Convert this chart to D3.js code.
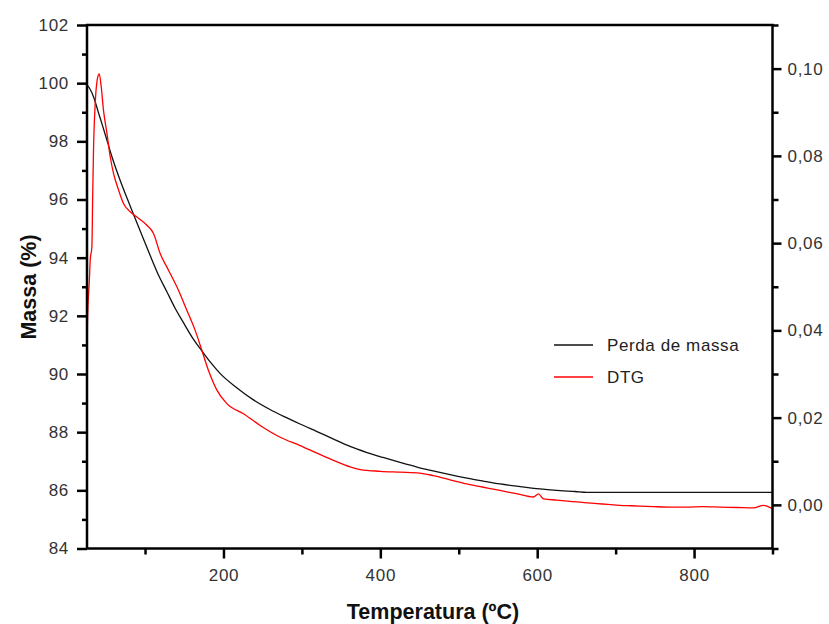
<!DOCTYPE html>
<html>
<head>
<meta charset="utf-8">
<script src="https://cdn.jsdelivr.net/npm/d3@7"></script>
<style>
  html, body { margin: 0; padding: 0; background: #fff; }
  svg { display: block; }
  text { font-family: "Liberation Sans", Arial, sans-serif; }
</style>
</head>
<body>
<svg id="chart" width="829" height="624"></svg>
<script>
// ---- Data ----
const massTemp = [26, 29.8, 34.9, 40.0, 45.1, 50.2, 57.9, 68.1, 77.0, 84.6, 94.9, 106.3, 116.5, 128.0, 138.2, 148.4, 159.9, 172.6, 184.1, 195.6, 217.3, 237.7, 259.3, 281.0, 297.6, 319.3, 339.7, 361.3, 383.0, 403.4, 425.1, 446.8, 467.2, 488.8, 510.5, 530.9, 552.6, 578.1, 603.6, 629.1, 648.2, 663.5, 700, 800, 900];
const massValues = [99.94, 99.80, 99.49, 99.04, 98.60, 98.15, 97.46, 96.67, 96.05, 95.54, 94.85, 94.09, 93.44, 92.82, 92.27, 91.79, 91.27, 90.79, 90.38, 90.02, 89.52, 89.12, 88.78, 88.49, 88.28, 88.02, 87.77, 87.51, 87.30, 87.13, 86.96, 86.80, 86.67, 86.54, 86.42, 86.32, 86.22, 86.13, 86.05, 85.99, 85.96, 85.93, 85.93, 85.93, 85.93];

const dtgTemp = [26.0, 26.6, 29.2, 30.1, 32.2, 33.3, 34.3, 36.5, 39.4, 41.6, 44.1, 47.0, 51.4, 55.6, 59.8, 66.2, 72.5, 81.1, 91.6, 102.4, 110.8, 119.3, 129.9, 142.6, 153.3, 163.9, 172.5, 180.9, 191.6, 204.3, 225.5, 246.8, 272.3, 297.8, 320, 340.2, 361.5, 374.3, 400, 425.2, 450, 467.7, 490, 510.3, 530, 552.7, 575, 595.2, 601.5, 607.9, 625, 642, 660, 676, 690, 705.7, 720, 748.1, 770, 790.7, 810, 833.1, 855, 875.6, 888.4, 899.1];
const dtgValues = [0.0316, 0.0416, 0.0523, 0.0561, 0.0591, 0.0714, 0.0813, 0.0921, 0.0978, 0.0988, 0.0959, 0.0905, 0.0852, 0.0798, 0.0760, 0.0722, 0.0691, 0.0672, 0.0657, 0.0641, 0.0622, 0.0576, 0.0538, 0.0492, 0.0446, 0.0400, 0.0354, 0.0308, 0.0263, 0.0232, 0.0209, 0.0182, 0.0155, 0.0136, 0.0118, 0.0102, 0.0087, 0.0081, 0.0077, 0.0075, 0.0073, 0.0067, 0.0057, 0.0048, 0.0041, 0.0033, 0.0025, 0.0018, 0.0025, 0.0014, 0.0011, 0.0008, 0.0005, 0.0003, 0.0001, -0.0001, -0.0002, -0.0004, -0.0005, -0.0005, -0.0004, -0.0005, -0.0006, -0.0007, -0.0001, -0.0008];

const xMajorTicks = [200, 400, 600, 800];
const xMinorTicks = [100, 300, 500, 700, 900];
const yLeftMajorTicks = [84, 86, 88, 90, 92, 94, 96, 98, 100, 102];
const yLeftMinorTicks = [85, 87, 89, 91, 93, 95, 97, 99, 101];
const yRightMajorTicks = [0.00, 0.02, 0.04, 0.06, 0.08, 0.10];
const yRightMinorTicks = [-0.01, 0.01, 0.03, 0.05, 0.07, 0.09, 0.11];

const seriesNames = ["Perda de massa", "DTG"];
const seriesColors = ["#111111", "#ff0000"];
const xTitle = "Temperatura (ºC)";
const yTitle = "Massa (%)";

// ---- Layout ----
const svg = d3.select("#chart");
const L = 87, R = 772.5, T = 25, B = 548.5;

const x = d3.scaleLinear().domain([26, 900]).range([L, R]);
const yL = d3.scaleLinear().domain([84, 102]).range([B, T]);
const yR = d3.scaleLinear().domain([-0.01, 0.11]).range([B, T]);

const fmtComma = v => d3.format(".2f")(v).replace(".", ",");

// curves
const massLine = d3.line().x(d => x(d[0])).y(d => yL(d[1])).curve(d3.curveMonotoneX);
const dtgLine = d3.line().x(d => x(d[0])).y(d => yR(d[1])).curve(d3.curveMonotoneX);

svg.append("path")
  .datum(massTemp.map((t, i) => [t, massValues[i]]))
  .attr("d", massLine).attr("fill", "none")
  .attr("stroke", seriesColors[0]).attr("stroke-width", 1.3);

svg.append("path")
  .datum(dtgTemp.map((t, i) => [t, dtgValues[i]]))
  .attr("d", dtgLine).attr("fill", "none")
  .attr("stroke", seriesColors[1]).attr("stroke-width", 1.3)
  .attr("stroke-linejoin", "round");

// axes
const tickStyle = g => {
  g.select(".domain").remove();
  g.selectAll(".tick line").attr("stroke", "#000").attr("stroke-width", 2.5);
  g.selectAll(".tick text").attr("fill", "#333").attr("font-size", "17px").attr("letter-spacing", "0.7px");
};

// bottom
svg.append("g").attr("transform", `translate(0,${B})`)
  .call(d3.axisBottom(x).tickValues(xMajorTicks).tickSize(10).tickPadding(10).tickFormat(d3.format("d")))
  .call(tickStyle);
svg.append("g").attr("transform", `translate(0,${B})`)
  .call(d3.axisBottom(x).tickValues(xMinorTicks).tickSize(6).tickFormat(""))
  .call(tickStyle);

// left
svg.append("g").attr("transform", `translate(${L},0)`)
  .call(d3.axisLeft(yL).tickValues(yLeftMajorTicks).tickSize(10).tickPadding(8).tickFormat(d3.format("d")))
  .call(tickStyle);
svg.append("g").attr("transform", `translate(${L},0)`)
  .call(d3.axisLeft(yL).tickValues(yLeftMinorTicks).tickSize(5).tickFormat(""))
  .call(tickStyle);

// right
svg.append("g").attr("transform", `translate(${R},0)`)
  .call(d3.axisRight(yR).tickValues(yRightMajorTicks).tickSize(9).tickPadding(6).tickFormat(fmtComma))
  .call(tickStyle);
svg.append("g").attr("transform", `translate(${R},0)`)
  .call(d3.axisRight(yR).tickValues(yRightMinorTicks).tickSize(6).tickFormat(""))
  .call(tickStyle);

// frame
svg.append("rect").attr("x", L).attr("y", T).attr("width", R - L).attr("height", B - T)
  .attr("fill", "none").attr("stroke", "#000").attr("stroke-width", 2.5);

// titles
svg.append("text").attr("x", 433).attr("y", 619).attr("text-anchor", "middle")
  .attr("font-size", "21.5px").attr("font-weight", "bold").attr("fill", "#111").text(xTitle);
svg.append("text").attr("transform", "translate(36,287) rotate(-90)").attr("text-anchor", "middle")
  .attr("font-size", "21.5px").attr("font-weight", "bold").attr("fill", "#111").text(yTitle);

// legend
const legend = svg.append("g");
seriesNames.forEach((name, i) => {
  const ly = 345 + i * 32;
  legend.append("line").attr("x1", 554).attr("x2", 593).attr("y1", ly).attr("y2", ly)
    .attr("stroke", seriesColors[i]).attr("stroke-width", 1.3);
  legend.append("text").attr("x", 607).attr("y", ly + 6).attr("font-size", "17px")
    .attr("letter-spacing", "0.6px").attr("fill", "#222").text(name);
});
</script>
</body>
</html>
